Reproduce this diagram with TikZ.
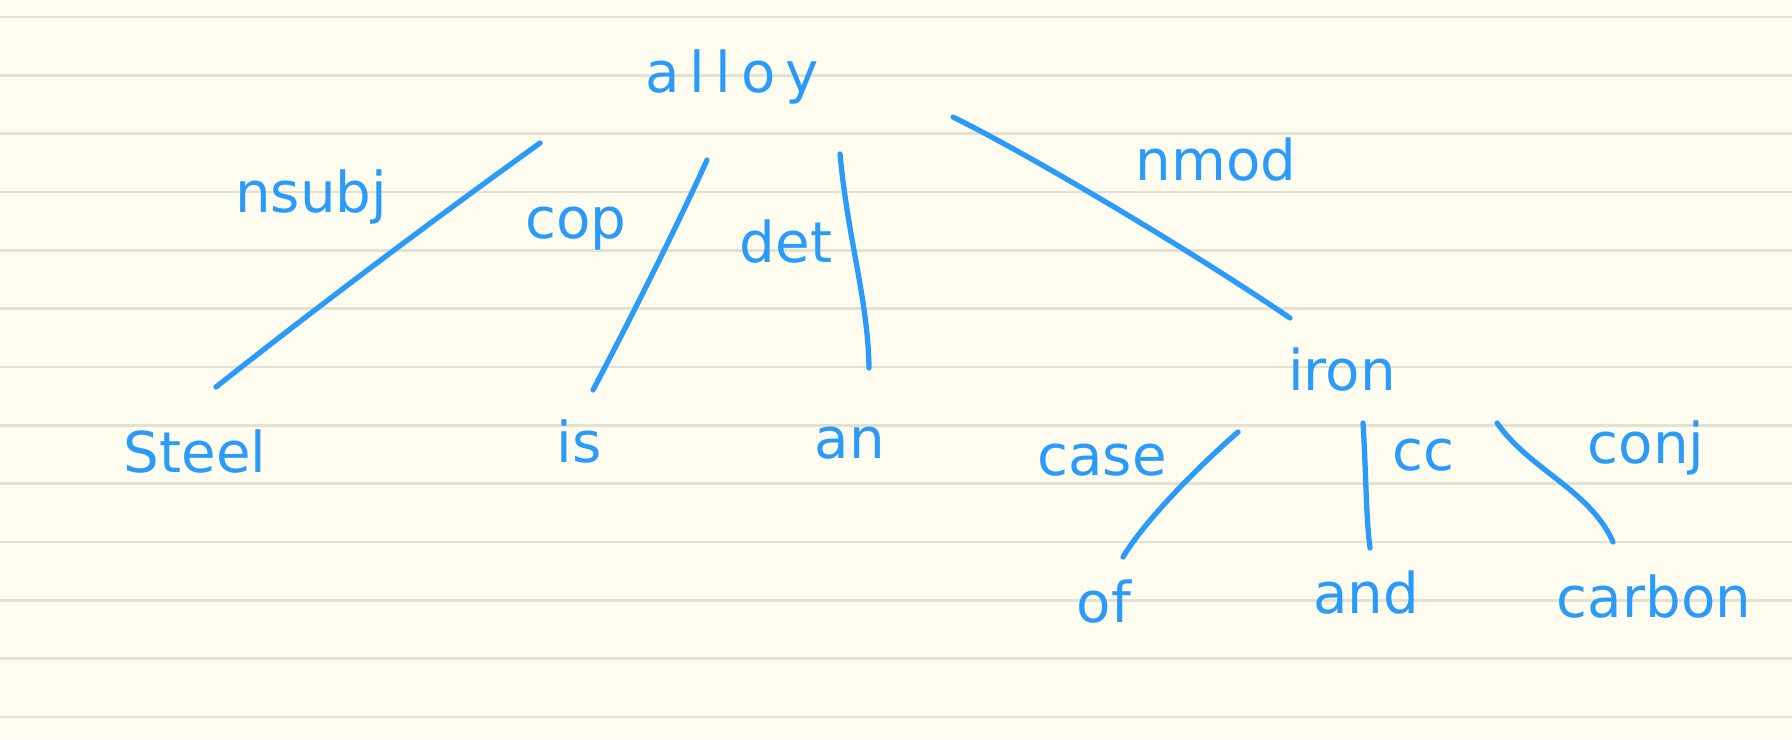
\documentclass[tikz,border=0pt]{standalone}
\usepackage{fontspec}
\setmainfont{DejaVu Sans}
\definecolor{paper}{HTML}{FEFCEE}
\definecolor{rulecol}{HTML}{E4E1D3}
\definecolor{ink}{HTML}{2B9BFA}
\begin{document}
\begin{tikzpicture}[x=0.01cm,y=-0.01cm,
  word/.style={text=ink, font=\fontsize{16}{19}\selectfont, anchor=base, inner sep=0pt},
  edge/.style={draw=ink, line width=1.5pt, line cap=round, line join=round},
  ruling/.style={draw=rulecol, line width=0.8pt}]
\fill[paper] (0,0) rectangle (1792,739);
\useasboundingbox (0,0) rectangle (1792,739);
\foreach \k in {0,...,12} \draw[ruling] (0,{17+58.33*\k}) -- (1792,{17+58.33*\k});

% words
\node[word] (alloy)  at (732,92)   {\addfontfeatures{LetterSpace=18}alloy};
\node[word] (steel)  at (195,472)  {Steel};
\node[word] (is)     at (579,462)  {is};
\node[word] (an)     at (850,458)  {an};
\node[word] (iron)   at (1342,390) {iron};
\node[word] (of)     at (1104,622) {of};
\node[word] (and)    at (1366,613) {and};
\node[word] (carbon) at (1654,617) {carbon};
% relation labels
\node[word] (nsubj) at (311,212)  {nsubj};
\node[word] (cop)   at (576,238)  {cop};
\node[word] (det)   at (786,262)  {det};
\node[word] (nmod)  at (1216,180) {nmod};
\node[word] (case)  at (1102,475) {case};
\node[word] (cc)    at (1423,470) {cc};
\node[word] (conj)  at (1646,463) {conj};

% connector ends
\coordinate (nsubjA) at (540,143);
\coordinate (nsubjB) at (216,387);
\coordinate (copA)   at (707,160);
\coordinate (copB)   at (593,390);
\coordinate (detA)   at (840,154);
\coordinate (detB)   at (869,368);
\coordinate (nmodA)  at (953,117);
\coordinate (nmodB)  at (1290,318);
\coordinate (caseA)  at (1238,432);
\coordinate (caseB)  at (1123,557);
\coordinate (ccA)    at (1363,423);
\coordinate (ccB)    at (1370,548);
\coordinate (conjA)  at (1497,423);
\coordinate (conjB)  at (1613,542);

\draw[edge] (nsubjA) .. controls (436,218) and (326,300) .. (nsubjB);
\draw[edge] (copA) .. controls (680,220) and (630,320) .. (copB);
\draw[edge] (detA) .. controls (848,240) and (868,300) .. (detB);
\draw[edge] (nmodA) .. controls (1030,155) and (1190,250) .. (nmodB);
\draw[edge] (caseA) .. controls (1200,465) and (1145,520) .. (caseB);
\draw[edge] (ccA) .. controls (1366,470) and (1366,520) .. (ccB);
\draw[edge] (conjA) .. controls (1530,470) and (1590,490) .. (conjB);
\end{tikzpicture}
\end{document}
